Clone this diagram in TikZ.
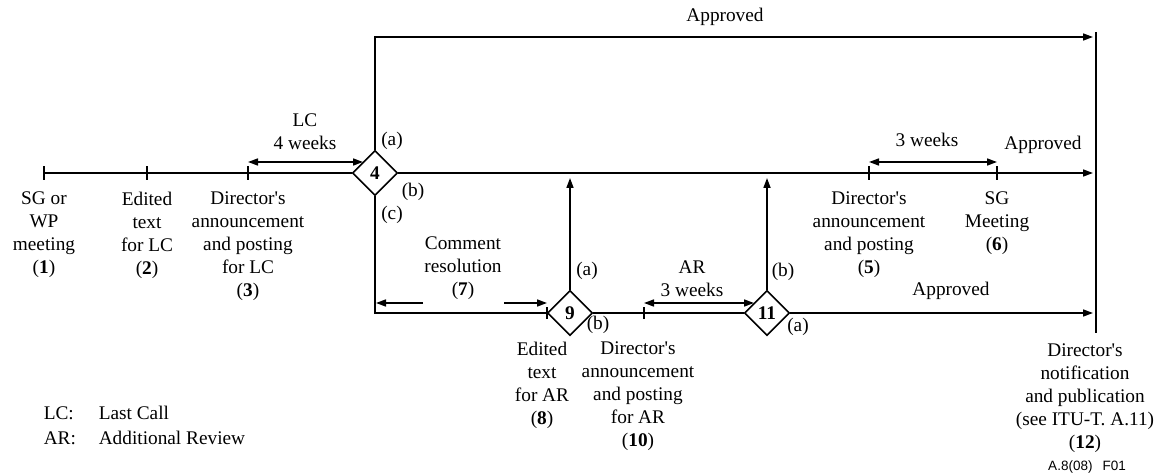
\documentclass[tikz,border=0pt]{standalone}
\usepackage{fontspec}
\setmainfont{Liberation Serif}[Ligatures=TeXOff]
\newfontfamily\sansf{Liberation Sans}
\usetikzlibrary{shapes.geometric,arrows.meta}
\begin{document}
\begin{tikzpicture}[x=1pt,y=-1pt,
  line width=1.6pt,
  every node/.style={font=\fontsize{19.3}{23}\selectfont, inner sep=0pt},
  lbl/.style={align=center, anchor=north},
  dec/.style={draw, diamond, aspect=1, minimum width=45pt, minimum height=45pt,
              font=\fontsize{19.3}{23}\selectfont\bfseries},
  arr/.style={-{Triangle[length=10pt,width=7pt]}},
  darr/.style={{Triangle[length=10pt,width=7pt]}-{Triangle[length=10pt,width=7pt]}},
]
\useasboundingbox (0,0) rectangle (1164,473);

% decision diamonds
\node[dec] (d4) at (375,173) {4};
\node[dec] (d9) at (570,313) {9};
\node[dec] (d11) at (767,313) {11};

% coordinates
\coordinate (p1) at (44,173);
\coordinate (p2) at (147,173);
\coordinate (p3) at (248,173);
\coordinate (p5) at (869,173);
\coordinate (p6) at (997,173);
\coordinate (mainend) at (1093,173);
\coordinate (topend) at (1093,37);
\coordinate (vtop) at (1096,32);
\coordinate (vbot) at (1096,333);
\coordinate (p10) at (644,313);
\coordinate (lowend) at (1093,313);
\coordinate (up9) at (570,178);
\coordinate (up11) at (767,178);
\coordinate (lcA) at (248,162);
\coordinate (lcB) at (363,162);
\coordinate (wkA) at (869,162);
\coordinate (wkB) at (997,162);
\coordinate (arA) at (644,303);
\coordinate (arB) at (754,303);
\coordinate (crA) at (423,303);
\coordinate (crB) at (376,303);
\coordinate (crC) at (504,303);
\coordinate (crD) at (547,303);

% main lines
\draw (p1) -- (d4.west);
\draw[arr] (d4.east) -- (mainend);
\draw[arr] (d4.north) |- (topend);
\draw (vtop) -- (vbot);
\draw (d4.south) |- (d9.west);
\draw (d9.east) -- (d11.west);
\draw[arr] (d11.east) -- (lowend);
\draw[arr] (d9.north) -- (up9);
\draw[arr] (d11.north) -- (up11);

% ticks
\foreach \p in {p1,p2,p3,p5,p6}
  \draw ([yshift=-7pt]\p) -- ([yshift=7pt]\p);
\draw ([yshift=-6pt]p10) -- ([yshift=6pt]p10);
\draw ([yshift=-6pt]d9.west) -- ([yshift=6pt]d9.west);

% dimension arrows
\draw[darr] (lcA) -- (lcB);
\draw[darr] (wkA) -- (wkB);
\draw[darr] (arA) -- (arB);
\draw[arr] (crA) -- (crB);
\draw[arr] (crC) -- (crD);

% labels
\node[lbl] (t1) at (44,191) {SG or\\WP\\meeting\\(\textbf{1})};
\node[lbl] (t2) at (147,191) {Edited\\text\\for LC\\(\textbf{2})};
\node[lbl] (t3) at (248,191) {Director's\\announcement\\and posting\\for LC\\(\textbf{3})};
\node[lbl] (t5) at (869,191) {Director's\\announcement\\and posting\\(\textbf{5})};
\node[lbl] (t6) at (997,191) {SG\\Meeting\\(\textbf{6})};
\node[lbl] (t8) at (542,341) {Edited\\text\\for AR\\(\textbf{8})};
\node[lbl] (t10) at (638,341) {Director's\\announcement\\and posting\\for AR\\(\textbf{10})};
\node[lbl] (t12) at (1085,343) {Director's\\notification\\and publication\\(see ITU-T. A.11)\\(\textbf{12})};
\node[lbl] (t7) at (463,236) {Comment\\resolution\\(\textbf{7})};
\node[lbl] (tlc) at (305,113) {LC\\4 weeks};
\node[lbl] (tar) at (692,260) {AR\\3 weeks};
\node (t3w) at (927,140) {3 weeks};
\node (ap1) at (725,17) {Approved};
\node (ap2) at (1043,145) {Approved};
\node (ap3) at (951,291) {Approved};

\node (d4a) at (392,141) {(a)};
\node (d4b) at (413,192) {(b)};
\node (d4c) at (392,215) {(c)};
\node (d9a) at (587,271) {(a)};
\node (d9b) at (598,325) {(b)};
\node (d11b) at (783,272) {(b)};
\node (d11a) at (798,327) {(a)};

% legend
\node[anchor=west] (lg1) at (43,413) {\makebox[55pt][l]{LC:}Last Call};
\node[anchor=west] (lg2) at (43,438) {\makebox[55pt][l]{AR:}Additional Review};

\node (fig) at (1087,467) {\sansf\fontsize{13.5}{14}\selectfont A.8(08)\hspace{10pt}F01};
\end{tikzpicture}
\end{document}
